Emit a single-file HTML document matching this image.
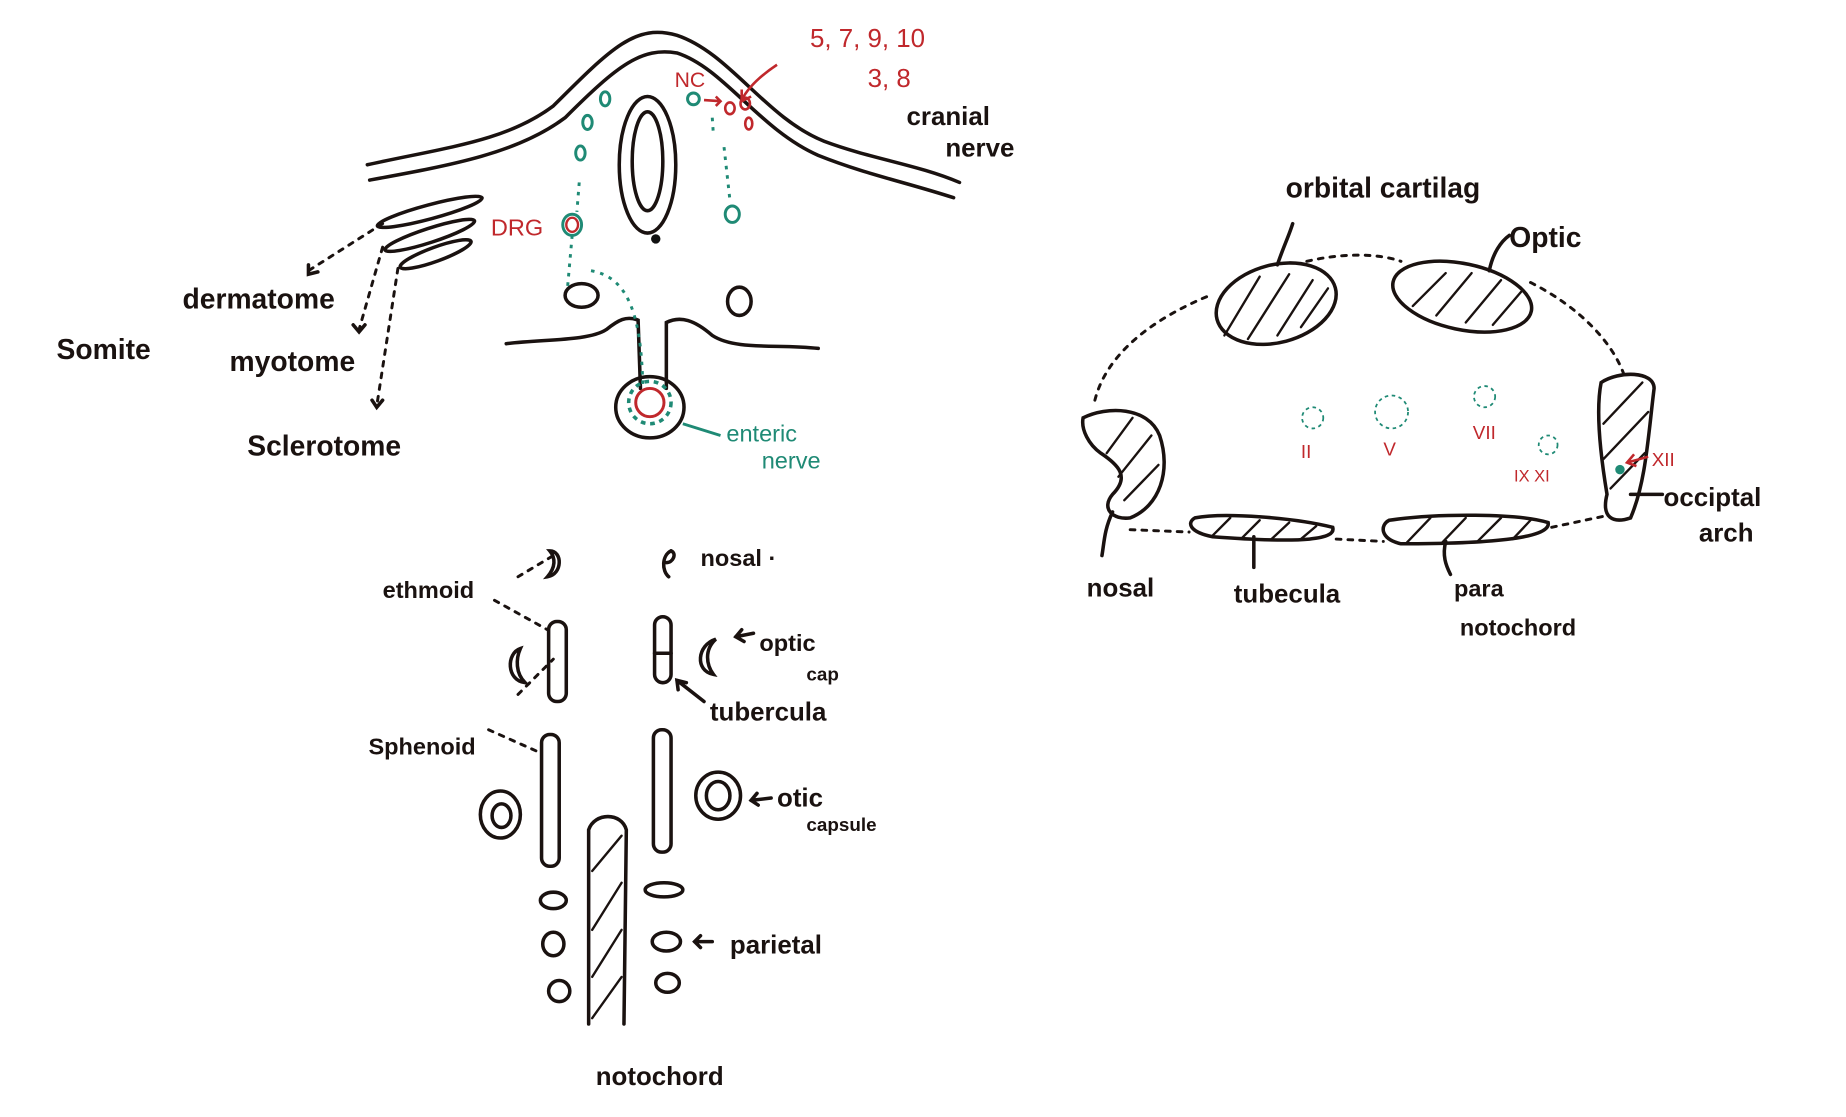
<!DOCTYPE html>
<html><head><meta charset="utf-8"><style>
html,body{margin:0;padding:0;background:#fff;}
svg{display:block;}
text{font-family:"Liberation Sans",sans-serif;}
</style></head><body>
<svg width="1846" height="1117" viewBox="0 0 1568 949" preserveAspectRatio="none" xmlns="http://www.w3.org/2000/svg">
<rect width="1568" height="949" fill="#fff"/>
<g fill="none" stroke="#1a1210" stroke-width="3" stroke-linecap="round">
<path d="M312,140 C380,125 430,120 470,90 C520,40 540,20 575,30 C620,45 650,100 700,120 C740,135 780,140 815,155"/>
<path d="M314,153 C385,140 440,130 480,100 C525,55 545,40 575,45 C615,58 645,110 695,132 C735,148 770,155 810,168"/>
<ellipse cx="550" cy="140" rx="24" ry="58"/>
<ellipse cx="550" cy="137" rx="13" ry="42"/>
<ellipse cx="365" cy="180" rx="46" ry="6" transform="rotate(-15 365 180)"/>
<ellipse cx="365" cy="200" rx="40" ry="6" transform="rotate(-18 365 200)"/>
<ellipse cx="370" cy="216" rx="32" ry="6" transform="rotate(-20 370 216)"/>
<path d="M430,292 C460,288 500,290 515,280 C525,272 532,268 542,272 L544,330"/>
<path d="M566,330 L566,274 C578,268 590,272 605,285 C625,298 660,292 695,296"/>
<ellipse cx="552" cy="346" rx="29" ry="26"/>
<ellipse cx="494" cy="251" rx="14" ry="10"/>
<ellipse cx="628" cy="256" rx="10" ry="12"/>
<g stroke-dasharray="4,6" stroke-width="2.5">
<path d="M325,190 L262,230"/><path d="M325,210 L305,280"/><path d="M338,228 L320,345"/>
<path d="M440,490 L470,472"/><path d="M420,510 L465,535"/><path d="M440,590 L470,560"/><path d="M415,620 L460,640"/>
<path d="M930,340 C940,300 980,270 1030,250"/><path d="M1110,222 C1140,215 1170,215 1190,222"/>
<path d="M1300,240 C1340,260 1370,290 1380,320"/>
<path d="M960,450 L1010,452"/><path d="M1135,458 L1175,460"/><path d="M1318,448 L1365,438"/>
</g>
<path d="M262,225 L262,233 L270,231"/><path d="M300,276 L305,282 L310,276"/><path d="M316,340 L320,346 L325,340"/>
<ellipse cx="1084" cy="258" rx="52" ry="33" transform="rotate(-15 1084 258)"/>
<ellipse cx="1242" cy="252" rx="60" ry="28" transform="rotate(12 1242 252)"/>
<path d="M920,355 C940,345 975,345 985,370 C995,400 985,430 960,440 C945,442 935,432 945,420 C960,405 950,395 935,385 C925,378 918,365 920,355 Z"/>
<path d="M1360,325 C1375,315 1405,315 1405,330 C1400,370 1398,410 1385,440 C1370,445 1360,440 1365,420 C1360,390 1355,350 1360,325 Z"/>
<path d="M1015,440 C1040,435 1100,440 1132,448 C1135,458 1110,462 1030,456 C1010,452 1008,444 1015,440 Z"/>
<path d="M1180,442 C1220,436 1290,436 1315,444 C1318,458 1260,462 1190,462 C1172,458 1172,446 1180,442 Z"/>
<g stroke-width="2">
<path d="M1040,285 L1070,235"/><path d="M1060,288 L1095,233"/><path d="M1085,285 L1115,238"/><path d="M1105,278 L1128,245"/>
<path d="M1200,260 L1228,232"/><path d="M1220,268 L1250,232"/><path d="M1245,274 L1275,238"/><path d="M1268,276 L1292,248"/>
<path d="M940,385 L962,355"/><path d="M950,405 L978,370"/><path d="M955,425 L984,395"/>
<path d="M1362,360 L1395,325"/><path d="M1362,390 L1400,350"/><path d="M1368,415 L1397,385"/>
<path d="M1030,455 L1045,440"/><path d="M1055,457 L1070,442"/><path d="M1080,458 L1095,444"/><path d="M1105,458 L1118,447"/>
<path d="M1195,461 L1215,440"/><path d="M1225,461 L1245,440"/><path d="M1255,460 L1275,440"/><path d="M1285,458 L1300,442"/>
</g>
<path d="M1085,225 C1090,210 1095,200 1098,190"/><path d="M1265,230 C1268,215 1275,205 1282,200"/>
<path d="M945,435 C938,450 938,460 936,472"/><path d="M1065,456 L1065,482"/><path d="M1228,460 C1225,472 1228,480 1232,488"/>
<path d="M1385,420 L1412,420"/>
<path d="M467,468 C478,468 478,488 465,490 C472,482 472,474 467,468 Z"/>
<path d="M570,468 C562,472 562,485 568,490 M570,468 C575,470 572,478 566,478"/>
<rect x="466" y="528" width="15" height="68" rx="7"/>
<rect x="556" y="524" width="14" height="56" rx="7"/><path d="M556,555 L570,555"/>
<path d="M442,551 C430,555 430,578 446,580 C438,572 438,560 442,551 Z"/>
<path d="M608,543 C592,548 590,570 606,573 C600,565 598,552 608,543 Z"/>
<rect x="460" y="624" width="15" height="112" rx="7"/>
<rect x="555" y="620" width="15" height="104" rx="7"/>
<ellipse cx="425" cy="692" rx="17" ry="20"/><ellipse cx="426" cy="693" rx="8" ry="10"/>
<ellipse cx="610" cy="676" rx="19" ry="20"/><ellipse cx="610" cy="676" rx="10" ry="12"/>
<path d="M500,870 L500,705 C505,690 528,690 532,705 L530,870"/>
<g stroke-width="2"><path d="M503,740 L528,710"/><path d="M503,790 L528,750"/><path d="M503,830 L528,790"/><path d="M503,865 L528,830"/></g>
<ellipse cx="470" cy="765" rx="11" ry="7"/><ellipse cx="470" cy="802" rx="9" ry="10"/><ellipse cx="475" cy="842" rx="9" ry="9"/>
<ellipse cx="564" cy="756" rx="16" ry="6"/><ellipse cx="566" cy="800" rx="12" ry="8"/><ellipse cx="567" cy="835" rx="10" ry="8"/>
<path d="M605,800 L590,800 M595,795 L590,800 L595,805"/>
<path d="M640,538 L625,541 M630,535 L625,541 L632,545"/>
<path d="M598,596 L575,578 M576,586 L575,578 L583,580"/>
<path d="M655,678 L638,680 M643,674 L638,680 L644,684"/>
</g>
<g fill="none" stroke="#1f8a75" stroke-width="2.5">
<ellipse cx="514" cy="84" rx="4" ry="6"/><ellipse cx="499" cy="104" rx="4" ry="6"/><ellipse cx="493" cy="130" rx="4" ry="6"/>
<ellipse cx="589" cy="84" rx="5" ry="5"/><ellipse cx="622" cy="182" rx="6" ry="7"/>
<ellipse cx="486" cy="191" rx="8" ry="9"/>
<path d="M492,155 L490,180 M486,200 L482,245 M605,100 L606,115 M615,125 L620,170 M502,230 C530,235 545,260 546,330" stroke-dasharray="3,5"/>
<circle cx="1115" cy="355" r="9" stroke-dasharray="3,3" stroke-width="1.5"/><circle cx="1182" cy="350" r="14" stroke-dasharray="3,3" stroke-width="1.5"/>
<circle cx="1261" cy="337" r="9" stroke-dasharray="3,3" stroke-width="1.5"/><circle cx="1315" cy="378" r="8" stroke-dasharray="3,3" stroke-width="1.5"/>
<path d="M580,360 L612,370"/>
</g>
<circle cx="552" cy="342" r="12" fill="none" stroke="#c0282c" stroke-width="2.5"/>
<circle cx="552" cy="342" r="18" fill="none" stroke="#1f8a75" stroke-width="3" stroke-dasharray="4,4"/>
<ellipse cx="486" cy="191" rx="5" ry="6" fill="none" stroke="#c0282c" stroke-width="2"/>
<circle cx="1376" cy="399" r="4" fill="#1f8a75"/>
<g fill="none" stroke="#c0282c" stroke-width="2.2">
<ellipse cx="620" cy="92" rx="4" ry="5"/><ellipse cx="633" cy="88" rx="4" ry="5"/><ellipse cx="636" cy="105" rx="3" ry="5"/>
<path d="M598,85 L612,86 M608,82 L612,86 L608,90"/>
<path d="M660,55 C645,65 635,75 630,85 M630,76 L630,86 L638,82"/>
<path d="M1400,388 L1382,393 M1388,386 L1382,393 L1390,396"/>
</g>
<circle cx="557" cy="203" r="4" fill="#111"/>
<g fill="#1a1210" font-size="24" font-weight="bold">
<text x="155" y="262">dermatome</text>
<text x="48" y="305">Somite</text>
<text x="195" y="315">myotome</text>
<text x="210" y="387">Sclerotome</text>
<text x="770" y="106" font-size="22">cranial</text>
<text x="803" y="133" font-size="22">nerve</text>
<text x="1092" y="168" font-size="24">orbital cartilag</text>
<text x="1282" y="210" font-size="24">Optic</text>
<text x="923" y="507" font-size="22">nosal</text>
<text x="1048" y="512" font-size="22">tubecula</text>
<text x="1235" y="507" font-size="20">para</text>
<text x="1240" y="540" font-size="20">notochord</text>
<text x="1413" y="430" font-size="22">occiptal</text>
<text x="1443" y="460" font-size="22">arch</text>
<text x="595" y="481" font-size="20">nosal ·</text>
<text x="325" y="508" font-size="20">ethmoid</text>
<text x="645" y="553" font-size="20">optic</text>
<text x="685" y="578" font-size="16">cap</text>
<text x="603" y="612" font-size="22">tubercula</text>
<text x="313" y="641" font-size="20">Sphenoid</text>
<text x="660" y="685" font-size="22">otic</text>
<text x="685" y="706" font-size="16">capsule</text>
<text x="620" y="810" font-size="22">parietal</text>
<text x="506" y="922" font-size="22">notochord</text>
</g>
<g fill="#c0282c">
<text x="688" y="40" font-size="22">5, 7, 9, 10</text>
<text x="737" y="74" font-size="22">3, 8</text>
<text x="573" y="74" font-size="18">NC</text>
<text x="417" y="200" font-size="20">DRG</text>
<text x="1105" y="389" font-size="16">II</text>
<text x="1175" y="387" font-size="16">V</text>
<text x="1251" y="373" font-size="16">VII</text>
<text x="1286" y="409" font-size="14">IX XI</text>
<text x="1403" y="396" font-size="16">XII</text>
</g>
<g fill="#1f8a75">
<text x="617" y="375" font-size="20">enteric</text>
<text x="647" y="398" font-size="20">nerve</text>
</g>
</svg>
</body></html>
